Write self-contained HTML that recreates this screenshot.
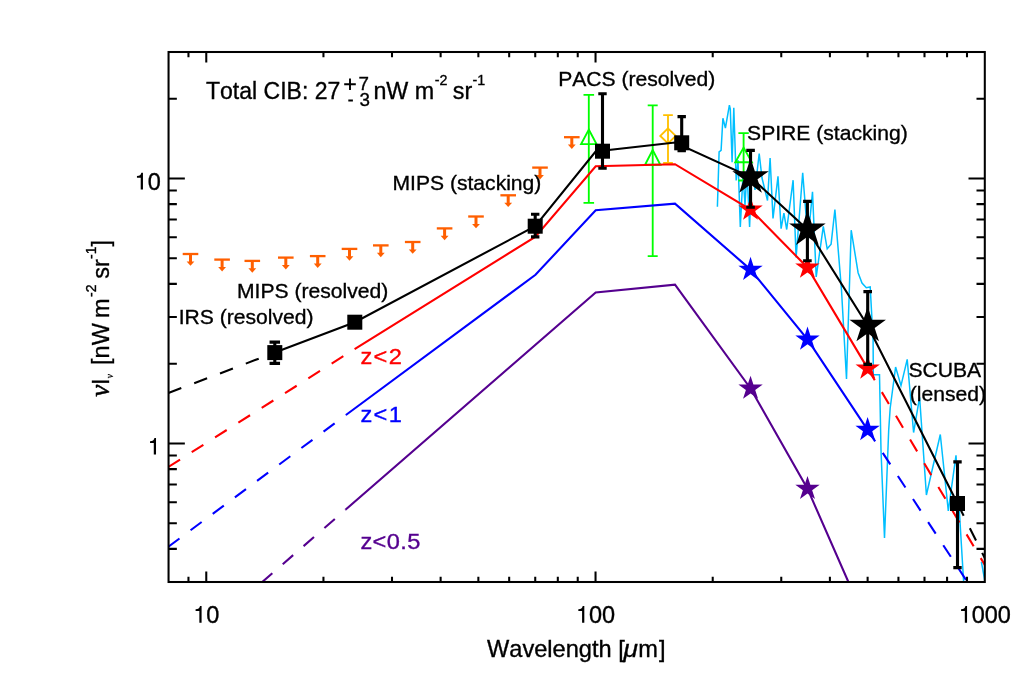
<!DOCTYPE html>
<html><head><meta charset="utf-8"><title>CIB</title><style>html,body{margin:0;padding:0;background:#fff}body{width:1035px;height:689px;overflow:hidden}</style></head>
<body>
<svg width="1035" height="689" viewBox="0 0 1035 689" style="display:block;font-family:'Liberation Sans',sans-serif;will-change:transform;font-kerning:none">
<rect width="1035" height="689" fill="#fff"/>
<defs><clipPath id="cp"><rect x="168.55" y="52.00" width="816.25" height="530.00"/></clipPath></defs>
<g clip-path="url(#cp)" fill="none" stroke-linejoin="miter">
<polyline points="717.4,206.7 719.1,151.9 721.1,150.3 722.9,118.3 725.4,128.0 729.4,105.1 730.3,109.2 732.1,162.2 733.8,107.7 736.2,180.5 738.0,160.0 740.3,227.0 743.0,175.0 745.0,205.0 747.0,170.0 749.6,227.0 752.0,165.0 755.0,190.0 759.2,153.5 762.0,178.0 767.5,200.5 770.1,158.0 773.0,218.5 778.0,176.4 781.1,228.7 783.9,213.2 786.7,229.5 793.1,180.2 796.1,257.4 802.7,172.7 808.0,240.0 812.5,191.9 816.2,277.0 823.3,226.4 827.2,248.8 831.1,244.2 834.9,209.5 841.5,290.0 846.5,379.0 851.2,230.2 858.1,272.7 862.0,283.0 866.3,287.8 870.2,287.0 873.1,340.0 873.3,374.7 879.5,374.7 881.0,450.0 884.5,538.0 888.7,430.0 890.2,408.0 895.6,367.0 901.0,385.6 907.2,359.3 913.6,432.5 919.6,397.2 926.4,495.0 940.3,434.5 948.3,510.8 956.0,455.3 963.7,583.0" stroke="#00BFFF" stroke-width="1.5"/>
<path d="M981.4 561.8L985.2 583" stroke="#00BFFF" stroke-width="1.5"/>
<path d="M588.80 94.80V202.80M583.50 94.80H594.10M583.50 202.80H594.10" stroke="#00FF00" stroke-width="1.85" fill="none"/>
<polygon points="588.8,129.6 581.1,144.1 596.5,144.1" stroke="#00FF00" stroke-width="1.9"/>
<path d="M652.70 105.40V256.10M647.70 105.40H657.70M647.70 256.10H657.70" stroke="#00FF00" stroke-width="1.85" fill="none"/>
<polygon points="652.7,150 645.05,164.7 660.35,164.7" stroke="#00FF00" stroke-width="1.9"/>
<path d="M743.60 133.10V180.50M738.40 133.10H748.80M738.40 180.50H748.80" stroke="#00FF00" stroke-width="1.85" fill="none"/>
<polygon points="743.6,147.6 735.3,162.2 751.9,162.2" stroke="#00FF00" stroke-width="1.9"/>
<path d="M668.00 115.10V163.00M663.15 115.10H672.85M663.15 163.00H672.85" stroke="#FFC000" stroke-width="1.85" fill="none"/>
<polygon points="668,128.4 675.7,135.9 668,143.4 660.3,135.9" stroke="#FFC000" stroke-width="1.9"/>
<path d="M261.9 582.3L345.7 509.5" stroke="#55008F" stroke-width="2.1" stroke-dasharray="13.8 13.8"/>
<polyline points="345.7,509.5 595.7,292.5 675.0,284.7 750.55,388.5 807.5,488.7 848.4,582" stroke="#55008F" stroke-width="2.1"/>
<path d="M168.4 546.7L345.9 415.0" stroke="#0000FF" stroke-width="2.1" stroke-dasharray="13.8 13.8"/>
<polyline points="345.9,415.0 535.5,274.8 595.7,210.2 675.0,203.6 750.55,269.6 807.5,339.4 867.6,429.8" stroke="#0000FF" stroke-width="2.1"/>
<path d="M867.6 429.8L967.4 582" stroke="#0000FF" stroke-width="2.1" stroke-dasharray="13.8 13.8"/>
<path d="M168.4 466.9L354.6 349.1" stroke="#FF0000" stroke-width="2.1" stroke-dasharray="13.8 13.8"/>
<polyline points="354.6,349.1 535.2,236.9 595.7,166.2 675.0,164.2 750.55,209.5 807.4,267.5 867.7,368.4" stroke="#FF0000" stroke-width="2.1"/>
<path d="M867.7 368.4L985 565.3" stroke="#FF0000" stroke-width="2.1" stroke-dasharray="13.8 13.8"/>
<path d="M168.4 393.0L274.8 352.6" stroke="#000" stroke-width="2.1" stroke-dasharray="13.8 13.8"/>
<polyline points="274.8,352.6 354.8,322.2 535.2,226.2 595.6,151.5 675.0,142.5 750.55,177.1 807.4,229.5 867.7,325.8 957.5,503.5" stroke="#000" stroke-width="2.1"/>
<path d="M957.5 503.5L985 558.5" stroke="#000" stroke-width="2.1" stroke-dasharray="13.8 13.8"/>
</g>
<polygon points="750.55,375.70 753.42,384.54 762.72,384.54 755.20,390.01 758.07,398.86 750.55,393.39 743.03,398.86 745.90,390.01 738.38,384.54 747.68,384.54" fill="#55008F"/>
<polygon points="807.50,475.90 810.37,484.74 819.67,484.74 812.15,490.21 815.02,499.06 807.50,493.59 799.98,499.06 802.85,490.21 795.33,484.74 804.63,484.74" fill="#55008F"/>
<polygon points="750.55,256.80 753.42,265.64 762.72,265.64 755.20,271.11 758.07,279.96 750.55,274.49 743.03,279.96 745.90,271.11 738.38,265.64 747.68,265.64" fill="#0000FF"/>
<polygon points="807.50,326.60 810.37,335.44 819.67,335.44 812.15,340.91 815.02,349.76 807.50,344.29 799.98,349.76 802.85,340.91 795.33,335.44 804.63,335.44" fill="#0000FF"/>
<polygon points="867.60,417.00 870.47,425.84 879.77,425.84 872.25,431.31 875.12,440.16 867.60,434.69 860.08,440.16 862.95,431.31 855.43,425.84 864.73,425.84" fill="#0000FF"/>
<polygon points="750.55,196.70 753.42,205.54 762.72,205.54 755.20,211.01 758.07,219.86 750.55,214.39 743.03,219.86 745.90,211.01 738.38,205.54 747.68,205.54" fill="#FF0000"/>
<polygon points="807.40,254.70 810.27,263.54 819.57,263.54 812.05,269.01 814.92,277.86 807.40,272.39 799.88,277.86 802.75,269.01 795.23,263.54 804.53,263.54" fill="#FF0000"/>
<polygon points="867.70,355.60 870.57,364.44 879.87,364.44 872.35,369.91 875.22,378.76 867.70,373.29 860.18,378.76 863.05,369.91 855.53,364.44 864.83,364.44" fill="#FF0000"/>
<path d="M274.80 342.10V363.40M269.55 342.10H280.05M269.55 363.40H280.05" stroke="#000" stroke-width="3.10" fill="none"/>
<path d="M354.80 317.00V327.50M350.30 317.00H359.30M350.30 327.50H359.30" stroke="#000" stroke-width="3.10" fill="none"/>
<path d="M535.20 214.30V236.90M531.00 214.30H539.40M531.00 236.90H539.40" stroke="#000" stroke-width="3.10" fill="none"/>
<path d="M602.50 93.80V168.30M598.30 93.80H606.70M598.30 168.30H606.70" stroke="#000" stroke-width="3.10" fill="none"/>
<path d="M681.70 116.60V150.60M677.50 116.60H685.90M677.50 150.60H685.90" stroke="#000" stroke-width="3.10" fill="none"/>
<path d="M750.55 150.40V207.30M746.25 150.40H754.85M746.25 207.30H754.85" stroke="#000" stroke-width="3.10" fill="none"/>
<path d="M807.40 201.40V260.70M803.10 201.40H811.70M803.10 260.70H811.70" stroke="#000" stroke-width="3.10" fill="none"/>
<path d="M867.70 291.60V364.40M863.40 291.60H872.00M863.40 364.40H872.00" stroke="#000" stroke-width="3.10" fill="none"/>
<path d="M957.50 461.90V567.60M953.30 461.90H961.70M953.30 567.60H961.70" stroke="#000" stroke-width="3.10" fill="none"/>
<rect x="267.30" y="345.10" width="15.00" height="15.00" fill="#000"/>
<rect x="347.30" y="314.70" width="15.00" height="15.00" fill="#000"/>
<rect x="527.70" y="218.70" width="15.00" height="15.00" fill="#000"/>
<rect x="595.00" y="143.70" width="15.00" height="15.00" fill="#000"/>
<rect x="674.20" y="135.30" width="15.00" height="15.00" fill="#000"/>
<rect x="950.00" y="496.00" width="15.00" height="15.00" fill="#000"/>
<polygon points="750.55,157.90 754.86,171.17 768.81,171.17 757.53,179.37 761.84,192.63 750.55,184.43 739.26,192.63 743.57,179.37 732.29,171.17 746.24,171.17" fill="#000"/>
<polygon points="807.40,210.30 811.71,223.57 825.66,223.57 814.38,231.77 818.69,245.03 807.40,236.83 796.11,245.03 800.42,231.77 789.14,223.57 803.09,223.57" fill="#000"/>
<polygon points="867.70,306.60 872.01,319.87 885.96,319.87 874.68,328.07 878.99,341.33 867.70,333.13 856.41,341.33 860.72,328.07 849.44,319.87 863.39,319.87" fill="#000"/>
<path d="M182.70 254.00H198.30" stroke="#FF5F00" stroke-width="2.3"/>
<path d="M190.50 254.00V262.00" stroke="#FF5F00" stroke-width="3"/>
<polygon points="186.60,261.40 194.40,261.40 190.50,265.80" fill="#FF5F00"/>
<path d="M214.30 259.60H229.90" stroke="#FF5F00" stroke-width="2.3"/>
<path d="M222.10 259.60V267.60" stroke="#FF5F00" stroke-width="3"/>
<polygon points="218.20,267.00 226.00,267.00 222.10,271.40" fill="#FF5F00"/>
<path d="M244.50 260.90H260.10" stroke="#FF5F00" stroke-width="2.3"/>
<path d="M252.30 260.90V268.90" stroke="#FF5F00" stroke-width="3"/>
<polygon points="248.40,268.30 256.20,268.30 252.30,272.70" fill="#FF5F00"/>
<path d="M278.00 257.60H293.60" stroke="#FF5F00" stroke-width="2.3"/>
<path d="M285.80 257.60V265.60" stroke="#FF5F00" stroke-width="3"/>
<polygon points="281.90,265.00 289.70,265.00 285.80,269.40" fill="#FF5F00"/>
<path d="M309.90 256.10H325.50" stroke="#FF5F00" stroke-width="2.3"/>
<path d="M317.70 256.10V264.10" stroke="#FF5F00" stroke-width="3"/>
<polygon points="313.80,263.50 321.60,263.50 317.70,267.90" fill="#FF5F00"/>
<path d="M341.70 248.90H357.30" stroke="#FF5F00" stroke-width="2.3"/>
<path d="M349.50 248.90V256.90" stroke="#FF5F00" stroke-width="3"/>
<polygon points="345.60,256.30 353.40,256.30 349.50,260.70" fill="#FF5F00"/>
<path d="M373.00 245.40H388.60" stroke="#FF5F00" stroke-width="2.3"/>
<path d="M380.80 245.40V253.40" stroke="#FF5F00" stroke-width="3"/>
<polygon points="376.90,252.80 384.70,252.80 380.80,257.20" fill="#FF5F00"/>
<path d="M404.90 242.00H420.50" stroke="#FF5F00" stroke-width="2.3"/>
<path d="M412.70 242.00V250.00" stroke="#FF5F00" stroke-width="3"/>
<polygon points="408.80,249.40 416.60,249.40 412.70,253.80" fill="#FF5F00"/>
<path d="M436.80 228.40H452.40" stroke="#FF5F00" stroke-width="2.3"/>
<path d="M444.60 228.40V236.40" stroke="#FF5F00" stroke-width="3"/>
<polygon points="440.70,235.80 448.50,235.80 444.60,240.20" fill="#FF5F00"/>
<path d="M468.20 216.50H483.80" stroke="#FF5F00" stroke-width="2.3"/>
<path d="M476.00 216.50V224.50" stroke="#FF5F00" stroke-width="3"/>
<polygon points="472.10,223.90 479.90,223.90 476.00,228.30" fill="#FF5F00"/>
<path d="M500.40 195.30H516.00" stroke="#FF5F00" stroke-width="2.3"/>
<path d="M508.20 195.30V203.30" stroke="#FF5F00" stroke-width="3"/>
<polygon points="504.30,202.70 512.10,202.70 508.20,207.10" fill="#FF5F00"/>
<path d="M532.20 167.60H547.80" stroke="#FF5F00" stroke-width="2.3"/>
<path d="M540.00 167.60V175.60" stroke="#FF5F00" stroke-width="3"/>
<polygon points="536.10,175.00 543.90,175.00 540.00,179.40" fill="#FF5F00"/>
<path d="M564.00 137.20H579.60" stroke="#FF5F00" stroke-width="2.3"/>
<path d="M571.80 137.20V145.20" stroke="#FF5F00" stroke-width="3"/>
<polygon points="567.90,144.60 575.70,144.60 571.80,149.00" fill="#FF5F00"/>
<path d="M206.27 52.00L206.27 62.60M206.27 582.00L206.27 571.40M595.54 52.00L595.54 62.60M595.54 582.00L595.54 571.40M188.46 52.00L188.46 57.30M188.46 582.00L188.46 576.70M323.45 52.00L323.45 57.30M323.45 582.00L323.45 576.70M392.00 52.00L392.00 57.30M392.00 582.00L392.00 576.70M440.63 52.00L440.63 57.30M440.63 582.00L440.63 576.70M478.36 52.00L478.36 57.30M478.36 582.00L478.36 576.70M509.18 52.00L509.18 57.30M509.18 582.00L509.18 576.70M535.24 52.00L535.24 57.30M535.24 582.00L535.24 576.70M557.81 52.00L557.81 57.30M557.81 582.00L557.81 576.70M577.73 52.00L577.73 57.30M577.73 582.00L577.73 576.70M712.72 52.00L712.72 57.30M712.72 582.00L712.72 576.70M781.26 52.00L781.26 57.30M781.26 582.00L781.26 576.70M829.90 52.00L829.90 57.30M829.90 582.00L829.90 576.70M867.62 52.00L867.62 57.30M867.62 582.00L867.62 576.70M898.44 52.00L898.44 57.30M898.44 582.00L898.44 576.70M924.50 52.00L924.50 57.30M924.50 582.00L924.50 576.70M947.08 52.00L947.08 57.30M947.08 582.00L947.08 576.70M966.99 52.00L966.99 57.30M966.99 582.00L966.99 576.70M168.55 443.44L184.85 443.44M984.80 443.44L968.50 443.44M168.55 178.44L184.85 178.44M984.80 178.44L968.50 178.44M168.55 548.89L176.85 548.89M984.80 548.89L976.50 548.89M168.55 523.21L176.85 523.21M984.80 523.21L976.50 523.21M168.55 502.23L176.85 502.23M984.80 502.23L976.50 502.23M168.55 484.49L176.85 484.49M984.80 484.49L976.50 484.49M168.55 469.12L176.85 469.12M984.80 469.12L976.50 469.12M168.55 455.56L176.85 455.56M984.80 455.56L976.50 455.56M168.55 363.66L176.85 363.66M984.80 363.66L976.50 363.66M168.55 317.00L176.85 317.00M984.80 317.00L976.50 317.00M168.55 283.89L176.85 283.89M984.80 283.89L976.50 283.89M168.55 258.21L176.85 258.21M984.80 258.21L976.50 258.21M168.55 237.23L176.85 237.23M984.80 237.23L976.50 237.23M168.55 219.49L176.85 219.49M984.80 219.49L976.50 219.49M168.55 204.12L176.85 204.12M984.80 204.12L976.50 204.12M168.55 190.56L176.85 190.56M984.80 190.56L976.50 190.56M168.55 98.66L176.85 98.66M984.80 98.66L976.50 98.66" stroke="#000" stroke-width="2.05" fill="none"/>
<rect x="168.55" y="52.00" width="816.25" height="530.00" fill="none" stroke="#000" stroke-width="2.05"/>
<path transform="translate(193.20,622.70) scale(0.02350,-0.02350)" d="M262 0V497H102V570C222 575 262 600 290 709H357V0Z" fill="#000"/><text x="206.27" y="622.70" font-size="23.50" text-anchor="start" fill="#000" stroke="#000" stroke-width="0.35" >0</text>
<path transform="translate(575.93,622.70) scale(0.02350,-0.02350)" d="M262 0V497H102V570C222 575 262 600 290 709H357V0Z" fill="#000"/><text x="589.00" y="622.70" font-size="23.50" text-anchor="start" fill="#000" stroke="#000" stroke-width="0.35" >00</text>
<path transform="translate(958.66,622.70) scale(0.02350,-0.02350)" d="M262 0V497H102V570C222 575 262 600 290 709H357V0Z" fill="#000"/><text x="971.73" y="622.70" font-size="23.50" text-anchor="start" fill="#000" stroke="#000" stroke-width="0.35" >000</text>
<path transform="translate(134.56,189.50) scale(0.02350,-0.02350)" d="M262 0V497H102V570C222 575 262 600 290 709H357V0Z" fill="#000"/><text x="147.63" y="189.50" font-size="23.50" text-anchor="start" fill="#000" stroke="#000" stroke-width="0.35" >0</text>
<path transform="translate(147.63,454.60) scale(0.02350,-0.02350)" d="M262 0V497H102V570C222 575 262 600 290 709H357V0Z" fill="#000"/>
<text x="487.00" y="657.30" font-size="23.60" text-anchor="start" fill="#000" stroke="#000" stroke-width="0.35" >Wavelength [</text>
<text transform="translate(623.4,657.3) scale(1.12,1)" font-size="23.5" font-style="italic" stroke="#000" stroke-width="0.35">&#956;</text>
<text x="638.30" y="657.30" font-size="23.60" text-anchor="start" fill="#000" stroke="#000" stroke-width="0.35" letter-spacing="1">m]</text>
<g transform="translate(108.9,396.5) rotate(-90)" font-size="23.5" stroke="#000" stroke-width="0.35"><text x="-0.3" y="0" font-family="'Liberation Serif',serif" font-style="italic" font-size="27" stroke="#000" stroke-width="0.5">&#957;</text><text x="11.6" y="0">I</text><text x="18.3" y="4.3" font-family="'Liberation Serif',serif" font-style="italic" font-size="9.5" stroke="#000" stroke-width="0.3">&#957;</text><text x="31.6" y="0">[nW</text><text x="78.5" y="0">m</text><text x="99.5" y="-13.3" font-size="14">-2</text><text x="117.7" y="0">sr</text><text x="137.5" y="-13.3" font-size="14">-1</text><text x="149.9" y="0">]</text></g>
<text x="206.03" y="98.60" font-size="23.00" text-anchor="start" fill="#000" stroke="#000" stroke-width="0.35" >Total CIB: 27</text>
<path d="M344.2 84.3H355.8M350 78.5V90.1" stroke="#000" stroke-width="1.9" fill="none"/>
<text x="358.40" y="90.40" font-size="18.80" text-anchor="start" fill="#000" stroke="#000" stroke-width="0.35" >7</text>
<path d="M348.3 100.5H352.9" stroke="#000" stroke-width="2" fill="none"/>
<text x="359.60" y="106.10" font-size="18.80" text-anchor="start" fill="#000" stroke="#000" stroke-width="0.35" >3</text>
<text x="373.4" y="98.6" font-size="23.3" stroke="#000" stroke-width="0.35">nW m<tspan font-size="14.3" dy="-13.2" dx="0.4">-2</tspan><tspan dy="13.2" dx="-1.0"> sr</tspan><tspan font-size="14.3" dy="-13.2" dx="0.2">-1</tspan></text>
<text x="558.20" y="86.40" font-size="21.10" text-anchor="start" fill="#000" stroke="#000" stroke-width="0.35" >PACS (resolved)</text>
<text x="747.10" y="139.90" font-size="21.10" text-anchor="start" fill="#000" stroke="#000" stroke-width="0.35" >SPIRE (stacking)</text>
<text x="392.50" y="190.10" font-size="21.10" text-anchor="start" fill="#000" stroke="#000" stroke-width="0.35" >MIPS (stacking)</text>
<text x="237.00" y="298.10" font-size="21.10" text-anchor="start" fill="#000" stroke="#000" stroke-width="0.35" >MIPS (resolved)</text>
<text x="178.70" y="324.20" font-size="21.10" text-anchor="start" fill="#000" stroke="#000" stroke-width="0.35" >IRS (resolved)</text>
<text x="908.40" y="377.30" font-size="21.10" text-anchor="start" fill="#000" stroke="#000" stroke-width="0.35" >SCUBA</text>
<text x="909.80" y="401.20" font-size="21.10" text-anchor="start" fill="#000" stroke="#000" stroke-width="0.35" >(lensed)</text>
<text transform="translate(360.40,363.60) scale(1.075,1)" font-size="22" fill="#FF0000" stroke-width="0.35" stroke="#FF0000" textLength="38.6" lengthAdjust="spacing">z&lt;2</text>
<text transform="translate(360.40,422.20) scale(1.075,1)" font-size="22" fill="#0000FF" stroke-width="0.35" stroke="#0000FF" textLength="38.6" lengthAdjust="spacing">z&lt;1</text>
<text transform="translate(360.40,549.00) scale(1.075,1)" font-size="22" fill="#55008F" stroke-width="0.35" stroke="#55008F" textLength="55.8" lengthAdjust="spacing">z&lt;0.5</text>
</svg>
</body></html>
